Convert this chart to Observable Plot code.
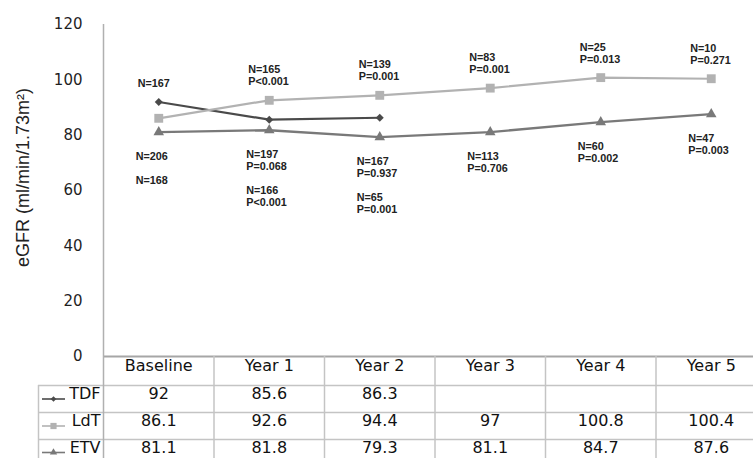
<!DOCTYPE html>
<html>
<head>
<meta charset="utf-8">
<script src="https://cdn.jsdelivr.net/npm/d3@7"></script>
<script src="https://cdn.jsdelivr.net/npm/@observablehq/plot@0.6"></script>
<style>
  html, body { margin: 0; padding: 0; background: #fff; }
  #chart svg { display: block; }
</style>
</head>
<body>
<div id="chart"></div>
<script>
// Time points along the x axis
const periods = ["Baseline", "Year 1", "Year 2", "Year 3", "Year 4", "Year 5"];

// Mean eGFR (ml/min/1.73m²) per treatment group
const tdfValues = [92, 85.6, 86.3, null, null, null];
const ldtValues = [86.1, 92.6, 94.4, 97, 100.8, 100.4];
const etvValues = [81.1, 81.8, 79.3, 81.1, 84.7, 87.6];

// Patients per time point and p-value vs baseline
const tdfN = [167, 166, 65, null, null, null];
const tdfP = ["", "P<0.001", "P=0.001", "", "", ""];
const ldtN = [168, 165, 139, 83, 25, 10];
const ldtP = ["", "P<0.001", "P=0.001", "P=0.001", "P=0.013", "P=0.271"];
const etvN = [206, 197, 167, 113, 60, 47];
const etvP = ["", "P=0.068", "P=0.937", "P=0.706", "P=0.002", "P=0.003"];

// Y axis ticks and title
const yTicks = [0, 20, 40, 60, 80, 100, 120];
const yTitle = "eGFR (ml/min/1.73m\u00b2)";

// Series styling
const seriesNames = ["TDF", "LdT", "ETV"];
const seriesColors = ["#4a4a4a", "#b2b2b2", "#797979"];
const seriesSymbols = ["diamond2", "square", "triangle"];
const seriesRadius = [3.6, 5, 3.9];
const seriesWidth = [2.2, 2.2, 2.4];

const series = seriesNames.map((name, k) => ({
  name,
  values: [tdfValues, ldtValues, etvValues][k],
  n: [tdfN, ldtN, etvN][k],
  p: [tdfP, ldtP, etvP][k],
  color: seriesColors[k],
  symbol: seriesSymbols[k],
  r: seriesRadius[k],
  width: seriesWidth[k]
}));

const points = series.flatMap(s =>
  s.values.map((value, i) => ({series: s.name, i, value})).filter(d => d.value != null)
);

// Sample-size / p-value blocks: the highest series is labelled above its point,
// the others are stacked beneath the lowest point
const block = (s, i) => ["N=" + s.n[i], s.p[i]].filter(Boolean).join("\n");
const labelsAbove = [];
const labelsBelow = [];
periods.forEach((_, i) => {
  const present = series.filter(s => s.values[i] != null)
    .sort((a, b) => b.values[i] - a.values[i]);
  const [highest, ...rest] = present;
  labelsAbove.push({i, value: highest.values[i], text: block(highest, i)});
  rest.reverse();
  labelsBelow.push({i, value: rest[0].values[i], text: rest.map(s => block(s, i)).join("\n\n")});
});

// Layout of the plot and its data table
const chartW = 753, chartH = 458;
const mLeft = 103, mTop = 24, mBottom = 102;
const colW = 110.5;                       // width of one period column
const labelLeft = -0.5 - 65 / colW;       // left edge of the series-name column (column units)
const lastEdge = periods.length - 0.5;
const rowEdges = [29, 56, 83];            // table row borders below the zero line
const headerMid = 14.5;
const rowMid = [42.5, 69.5, 96];

const gridColor = "#c4c4c4";
const tableFont = "DejaVu Sans, Verdana, sans-serif";
const noteFont = "Liberation Sans, Arial, sans-serif";

const marks = [];

// Table grid
marks.push(Plot.ruleY([0], {x1: -0.5, x2: lastEdge, stroke: "#a6a6a6", strokeWidth: 2}));
rowEdges.forEach(e =>
  marks.push(Plot.ruleY([0], {x1: labelLeft, x2: lastEdge, dy: e, stroke: gridColor, strokeWidth: 1.5}))
);
marks.push(Plot.ruleX(d3.range(0.5, periods.length - 0.5, 1), {y1: 0, y2: 0, insetBottom: -mBottom, stroke: gridColor, strokeWidth: 1.5}));
marks.push(Plot.ruleX([labelLeft], {y1: 0, y2: 0, insetTop: rowEdges[0], insetBottom: -mBottom, stroke: gridColor, strokeWidth: 1.5}));
// Vertical axis line, running down through the table
marks.push(Plot.ruleX([-0.5], {y1: 120, y2: 0, insetBottom: -mBottom, stroke: "#b0b0b0", strokeWidth: 1.5}));

// Lines and markers
series.forEach(s => {
  const data = points.filter(d => d.series === s.name);
  marks.push(Plot.line(data, {x: "i", y: "value", stroke: s.color, strokeWidth: s.width}));
  marks.push(Plot.dot(data, {x: "i", y: "value", symbol: s.symbol, r: s.r, fill: s.color, stroke: "none"}));
});

// N / P annotations
const noteStyle = {fontFamily: noteFont, fontSize: 10.8, fontWeight: "bold", fill: "#222", lineHeight: 1.12, textAnchor: "start"};
marks.push(Plot.text(labelsAbove, {x: "i", y: "value", text: "text", lineAnchor: "bottom", dx: -21, dy: -15, ...noteStyle}));
marks.push(Plot.text(labelsBelow, {x: "i", y: "value", text: "text", lineAnchor: "top", dx: -23, dy: 19, ...noteStyle}));

// Table header and rows
const cellStyle = {fontFamily: tableFont, fontSize: 16, fill: "#111", frameAnchor: "bottom"};
marks.push(Plot.text(periods, {x: (d, i) => i, text: d => d, dy: headerMid, ...cellStyle}));
series.forEach((s, k) => {
  const cells = s.values.map((v, i) => ({i, v})).filter(d => d.v != null);
  marks.push(Plot.text(cells, {x: "i", text: d => String(d.v), dy: rowMid[k], ...cellStyle}));
  // series name with its line/marker key
  marks.push(Plot.text([s.name], {x: -0.5, text: d => d, textAnchor: "end", dx: -3, dy: rowMid[k], ...cellStyle}));
  marks.push(Plot.ruleY([0], {x1: -0.5, x2: -0.5, insetLeft: -61, insetRight: 38, dy: rowMid[k], stroke: s.color, strokeWidth: 1.6}));
  marks.push(Plot.dot([0], {x: -0.5, y: 0, dx: -50, dy: rowMid[k], symbol: s.symbol, r: s.r * 0.7, fill: s.color, stroke: "none"}));
});

// Y axis
marks.push(Plot.axisY({ticks: yTicks, tickSize: 0, tickPadding: 21, fontSize: 15, fontFamily: tableFont, fill: "#1f1f1f", label: null}));
marks.push(Plot.text([yTitle], {text: d => d, frameAnchor: "left", textAnchor: "middle", rotate: -90, dx: -80, dy: -13, fontSize: 18, fontFamily: noteFont, fill: "#222"}));

const chart = Plot.plot({
  width: chartW,
  height: chartH,
  marginLeft: mLeft,
  marginRight: 0,
  marginTop: mTop,
  marginBottom: mBottom,
  style: {background: "#fff", overflow: "hidden"},
  x: {domain: [-0.5, lastEdge], range: [mLeft, mLeft + colW * periods.length], axis: null},
  y: {domain: [0, 120], axis: null},
  marks
});

document.getElementById("chart").append(chart);
</script>
</body>
</html>
